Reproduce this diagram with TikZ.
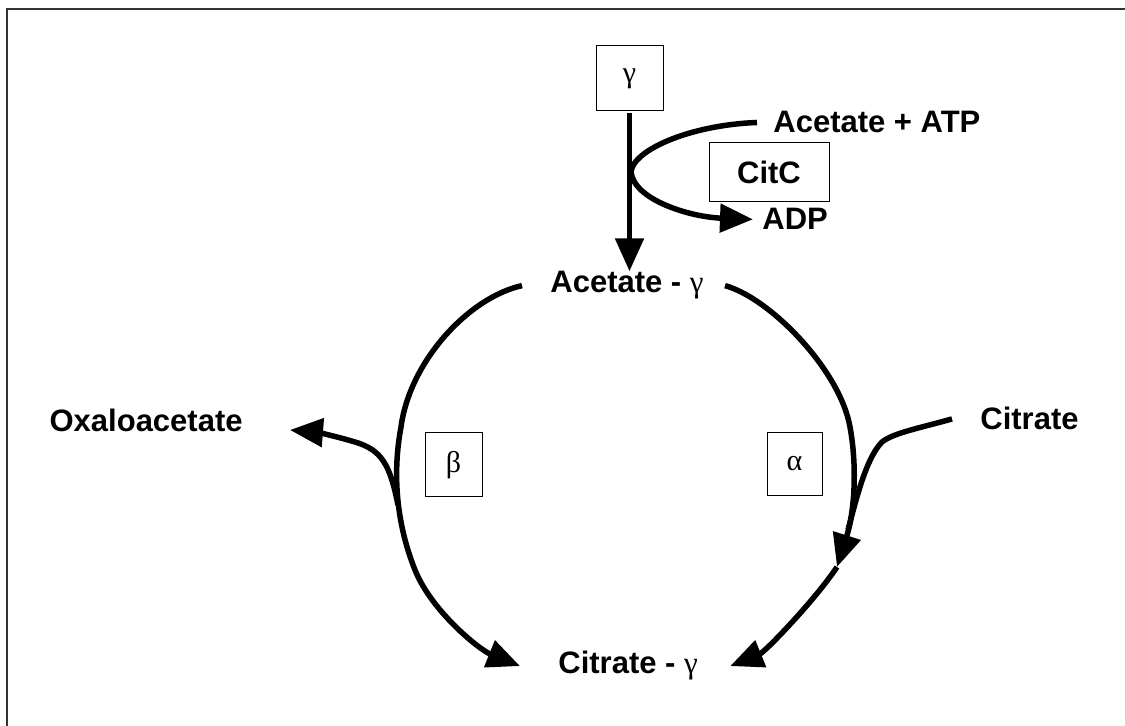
\documentclass[tikz,border=0pt]{standalone}
\usepackage{fontspec}
\setmainfont{Liberation Sans}
\newfontfamily\grk{Liberation Serif}
\usetikzlibrary{arrows.meta}

\begin{document}
\begin{tikzpicture}[x=0.5pt, y=-0.5pt]
\tikzstyle{lbl}=[inner sep=0pt, font=\bfseries\fontsize{15.5}{18}\selectfont]
\tikzstyle{enz}=[draw, line width=0.5pt, inner sep=0pt,
                 font=\grk\fontsize{15}{18}\selectfont]
\tikzstyle{flux}=[line width=2.75pt]
\tikzstyle{tip}=[-{Triangle[length=16.5pt, width=14pt]}]
\useasboundingbox (0,0) rectangle (1125,726);
\draw[black!80, line width=0.75pt] (7,726) -- (7,9) -- (1125,9);

% enzyme boxes
\node[enz, minimum width=33.5pt, minimum height=32.5pt] (G) at (629.5,78.5) {γ};
\node[enz, font=\bfseries\fontsize{15.5}{18}\selectfont,
      minimum width=60pt, minimum height=29.5pt] (CitC) at (769,172.5) {CitC};
\node[enz, minimum width=28.5pt, minimum height=32pt] (B) at (453.5,465) {β};
\node[enz, minimum width=27.5pt, minimum height=31.5pt] (A) at (794.5,464) {α};

% compounds
\node[lbl, anchor=base west] (AcATP) at (773,133) {Acetate + ATP};
\node[lbl, anchor=base west] (ADP) at (762,230) {ADP};
\node[lbl, anchor=base west] (AcG) at (550,293) {Acetate - {\grk\mdseries γ}};
\node[lbl, anchor=base east] (Ox) at (243,432) {Oxaloacetate};
\node[lbl, anchor=base west] (Cit) at (980,430) {Citrate};
\node[lbl, anchor=base west] (CitG) at (558,674) {Citrate - {\grk\mdseries γ}};

\coordinate (jn) at (631,172);
\coordinate (mid) at (837,567);
\coordinate (bj) at (398,505);

% acetylation by CitC
\draw[flux, tip, shorten <=1pt] (G.south) -- (G.south |- AcG.north);
\draw[flux, tip] ([xshift=-8pt]AcATP.west) .. controls (690,125) and (633,150) .. (jn)
      .. controls (634,200) and (690,217) .. ([xshift=-4.5pt]ADP.west);

% left half of the cycle, beta
\draw[flux, tip] ([xshift=-14pt]AcG.west) .. controls (470,297) and (410,360) .. (401,427)
      .. controls (393,470) and (395,520) .. (415,570)
      .. controls (432,612) and (480,650) .. ([xshift=-19pt]CitG.west);
\draw[flux, tip] (bj) .. controls (390,465) and (382,450) .. (355,442)
      .. controls (335,436) and (315,432) .. ([xshift=23.5pt, yshift=1pt]Ox.base east);

% right half of the cycle, alpha
\draw[flux, tip] ([xshift=10.5pt]AcG.east) .. controls (770,298) and (840,370) .. (850,427)
      .. controls (857,465) and (855,510) .. (mid);
\draw[flux, tip] (mid) .. controls (815,600) and (765,652) .. ([xshift=16pt]CitG.east);
\draw[flux] ([xshift=-14pt]Cit.west) .. controls (920,428) and (893,433) .. (882,442)
      .. controls (866,458) and (856,500) .. (848,530);
\end{tikzpicture}
\end{document}
